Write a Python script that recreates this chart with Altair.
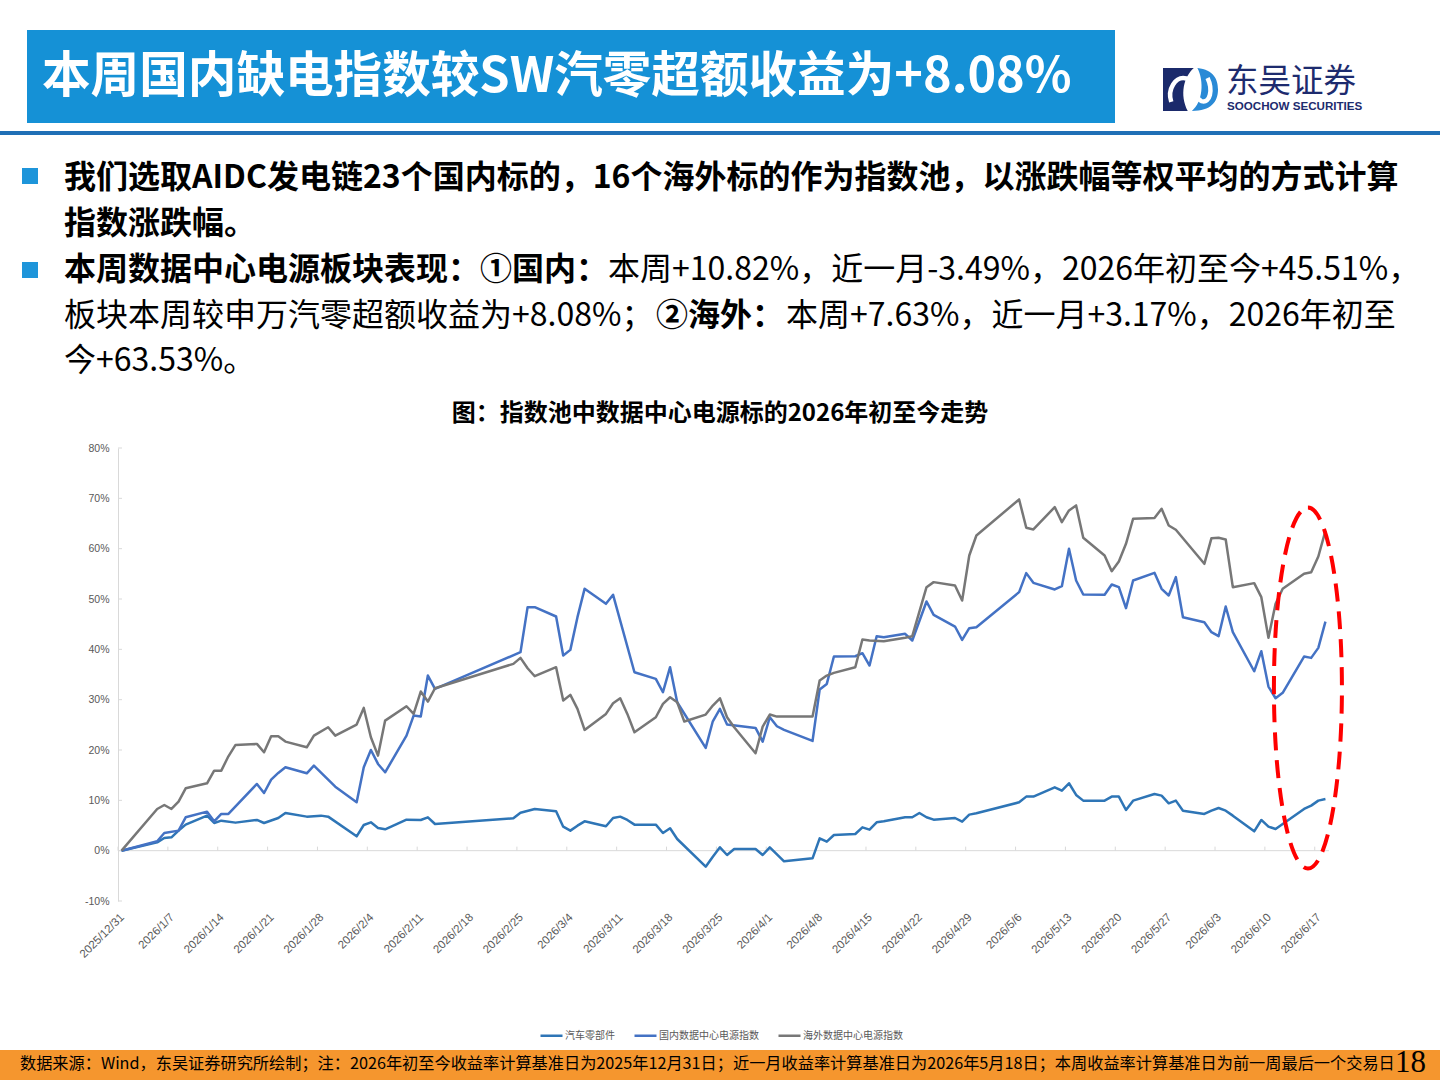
import altair as alt
import pandas as pd

CJK = "Noto Sans CJK SC"
LATIN = "Liberation Sans"

# ---------------- series: cumulative return since 2025-12-31 (%) ----------------
SERIES = ["汽车零部件", "国内数据中心电源指数", "海外数据中心电源指数"]
COLORS = ["#2E75B6", "#4472C4", "#777777"]

AUTO_PARTS = [
    ("2025-12-31", 0.00), ("2026-01-05", 1.66), ("2026-01-06", 2.52), ("2026-01-07", 2.65),
    ("2026-01-08", 3.98), ("2026-01-09", 5.17), ("2026-01-12", 6.96), ("2026-01-13", 5.50),
    ("2026-01-14", 5.96), ("2026-01-16", 5.57), ("2026-01-19", 6.10), ("2026-01-20", 5.50),
    ("2026-01-22", 6.49), ("2026-01-23", 7.49), ("2026-01-26", 6.76), ("2026-01-28", 6.96),
    ("2026-01-29", 6.76), ("2026-02-02", 2.85), ("2026-02-03", 5.10), ("2026-02-04", 5.63),
    ("2026-02-05", 4.51), ("2026-02-06", 4.24), ("2026-02-09", 6.16), ("2026-02-11", 6.10),
    ("2026-02-12", 6.63), ("2026-02-13", 5.30), ("2026-02-24", 6.43), ("2026-02-25", 7.55),
    ("2026-02-27", 8.28), ("2026-03-02", 7.82), ("2026-03-03", 4.77), ("2026-03-04", 3.98),
    ("2026-03-05", 4.97), ("2026-03-06", 5.83), ("2026-03-09", 4.84), ("2026-03-10", 6.49),
    ("2026-03-11", 6.76), ("2026-03-12", 6.10), ("2026-03-13", 5.17), ("2026-03-16", 5.17),
    ("2026-03-17", 3.51), ("2026-03-18", 4.44), ("2026-03-19", 2.32), ("2026-03-23", -3.18),
    ("2026-03-24", -1.19), ("2026-03-25", 0.66), ("2026-03-26", -0.86), ("2026-03-27", 0.33),
    ("2026-03-30", 0.33), ("2026-03-31", -0.86), ("2026-04-01", 0.66), ("2026-04-03", -2.12),
    ("2026-04-07", -1.52), ("2026-04-08", 2.45), ("2026-04-09", 1.79), ("2026-04-10", 3.11),
    ("2026-04-13", 3.31), ("2026-04-14", 4.64), ("2026-04-15", 4.17), ("2026-04-16", 5.63),
    ("2026-04-17", 5.83), ("2026-04-20", 6.63), ("2026-04-21", 6.63), ("2026-04-22", 7.49),
    ("2026-04-23", 6.63), ("2026-04-24", 6.16), ("2026-04-27", 6.49), ("2026-04-28", 5.77),
    ("2026-04-29", 7.16), ("2026-04-30", 7.42), ("2026-05-06", 9.61), ("2026-05-07", 10.74),
    ("2026-05-08", 10.74), ("2026-05-11", 12.59), ("2026-05-12", 11.93), ("2026-05-13", 13.39),
    ("2026-05-14", 11.07), ("2026-05-15", 9.94), ("2026-05-18", 9.94), ("2026-05-19", 10.74),
    ("2026-05-20", 10.74), ("2026-05-21", 8.08), ("2026-05-22", 9.94), ("2026-05-25", 11.27),
    ("2026-05-26", 10.93), ("2026-05-27", 9.41), ("2026-05-28", 9.94), ("2026-05-29", 7.95),
    ("2026-06-01", 7.29), ("2026-06-02", 7.95), ("2026-06-03", 8.48), ("2026-06-04", 7.95),
    ("2026-06-05", 6.96), ("2026-06-08", 3.84), ("2026-06-09", 6.10), ("2026-06-10", 4.77),
    ("2026-06-11", 4.31), ("2026-06-12", 5.30), ("2026-06-15", 8.28), ("2026-06-16", 8.95),
    ("2026-06-17", 9.94), ("2026-06-18", 10.27),
]

DOMESTIC = [
    ("2025-12-31", 0.00), ("2026-01-05", 1.86), ("2026-01-06", 3.51), ("2026-01-08", 3.98),
    ("2026-01-09", 6.63), ("2026-01-12", 7.75), ("2026-01-13", 5.83), ("2026-01-14", 7.29),
    ("2026-01-15", 7.29), ("2026-01-19", 13.25), ("2026-01-20", 11.46), ("2026-01-21", 14.12),
    ("2026-01-22", 15.44), ("2026-01-23", 16.57), ("2026-01-26", 15.37), ("2026-01-27", 16.90),
    ("2026-01-30", 12.72), ("2026-02-02", 9.61), ("2026-02-03", 16.57), ("2026-02-04", 20.01),
    ("2026-02-05", 17.23), ("2026-02-06", 15.57), ("2026-02-09", 22.86), ("2026-02-10", 26.84),
    ("2026-02-11", 26.64), ("2026-02-12", 34.79), ("2026-02-13", 32.14), ("2026-02-25", 39.43),
    ("2026-02-26", 48.38), ("2026-02-27", 48.38), ("2026-03-02", 46.52), ("2026-03-03", 38.77),
    ("2026-03-04", 39.89), ("2026-03-05", 46.39), ("2026-03-06", 52.02), ("2026-03-09", 49.04),
    ("2026-03-10", 50.83), ("2026-03-13", 35.45), ("2026-03-16", 34.13), ("2026-03-17", 31.48),
    ("2026-03-18", 36.45), ("2026-03-19", 29.49), ("2026-03-23", 20.41), ("2026-03-24", 25.71),
    ("2026-03-25", 28.16), ("2026-03-26", 25.05), ("2026-03-30", 24.39), ("2026-03-31", 21.67),
    ("2026-04-01", 26.51), ("2026-04-02", 24.72), ("2026-04-03", 24.00), ("2026-04-07", 21.80),
    ("2026-04-08", 32.00), ("2026-04-09", 33.13), ("2026-04-10", 38.57), ("2026-04-13", 38.63),
    ("2026-04-14", 39.23), ("2026-04-15", 36.78), ("2026-04-16", 42.61), ("2026-04-17", 42.41),
    ("2026-04-20", 43.08), ("2026-04-21", 41.75), ("2026-04-23", 49.50), ("2026-04-24", 46.85),
    ("2026-04-27", 44.53), ("2026-04-28", 41.88), ("2026-04-29", 44.20), ("2026-04-30", 44.40),
    ("2026-05-06", 51.36), ("2026-05-07", 55.14), ("2026-05-08", 53.21), ("2026-05-11", 51.89),
    ("2026-05-12", 52.55), ("2026-05-13", 59.97), ("2026-05-14", 53.68), ("2026-05-15", 50.89),
    ("2026-05-18", 50.83), ("2026-05-19", 52.88), ("2026-05-20", 52.35), ("2026-05-21", 48.18),
    ("2026-05-22", 53.68), ("2026-05-25", 55.20), ("2026-05-26", 52.02), ("2026-05-27", 50.70),
    ("2026-05-28", 54.34), ("2026-05-29", 46.39), ("2026-06-01", 45.39), ("2026-06-02", 43.41),
    ("2026-06-03", 42.61), ("2026-06-04", 48.51), ("2026-06-05", 43.41), ("2026-06-08", 35.65),
    ("2026-06-09", 39.63), ("2026-06-10", 32.60), ("2026-06-11", 30.28), ("2026-06-12", 31.35),
    ("2026-06-15", 38.57), ("2026-06-16", 38.30), ("2026-06-17", 40.29), ("2026-06-18", 45.51),
]

OVERSEAS = [
    ("2025-12-31", 0.00), ("2026-01-05", 8.28), ("2026-01-06", 9.08), ("2026-01-07", 8.28),
    ("2026-01-08", 9.74), ("2026-01-09", 12.39), ("2026-01-12", 13.39), ("2026-01-13", 15.90),
    ("2026-01-14", 15.90), ("2026-01-15", 18.75), ("2026-01-16", 21.01), ("2026-01-19", 21.21),
    ("2026-01-20", 19.55), ("2026-01-21", 22.73), ("2026-01-22", 22.73), ("2026-01-23", 21.67),
    ("2026-01-26", 20.54), ("2026-01-27", 22.86), ("2026-01-29", 24.52), ("2026-01-30", 22.86),
    ("2026-02-02", 25.05), ("2026-02-03", 28.36), ("2026-02-04", 22.53), ("2026-02-05", 18.89),
    ("2026-02-06", 25.84), ("2026-02-09", 28.69), ("2026-02-10", 27.17), ("2026-02-11", 31.61),
    ("2026-02-12", 29.62), ("2026-02-13", 32.27), ("2026-02-24", 37.11), ("2026-02-25", 38.30),
    ("2026-02-26", 36.25), ("2026-02-27", 34.66), ("2026-03-02", 36.45), ("2026-03-03", 29.82),
    ("2026-03-04", 30.95), ("2026-03-05", 28.16), ("2026-03-06", 23.99), ("2026-03-09", 27.17),
    ("2026-03-10", 29.29), ("2026-03-11", 30.28), ("2026-03-12", 27.17), ("2026-03-13", 23.53),
    ("2026-03-16", 26.51), ("2026-03-17", 29.16), ("2026-03-18", 30.48), ("2026-03-19", 29.49),
    ("2026-03-20", 25.65), ("2026-03-23", 27.04), ("2026-03-24", 28.83), ("2026-03-25", 30.28),
    ("2026-03-26", 26.51), ("2026-03-27", 24.52), ("2026-03-30", 19.35), ("2026-03-31", 24.65),
    ("2026-04-01", 27.04), ("2026-04-02", 26.64), ("2026-04-07", 26.64), ("2026-04-08", 33.80),
    ("2026-04-09", 34.79), ("2026-04-10", 35.32), ("2026-04-13", 36.45), ("2026-04-14", 41.95),
    ("2026-04-15", 41.75), ("2026-04-17", 41.62), ("2026-04-20", 42.30), ("2026-04-21", 42.61),
    ("2026-04-23", 52.35), ("2026-04-24", 53.35), ("2026-04-27", 52.68), ("2026-04-28", 49.70),
    ("2026-04-29", 58.65), ("2026-04-30", 62.62), ("2026-05-06", 69.78), ("2026-05-07", 64.15),
    ("2026-05-08", 63.82), ("2026-05-11", 68.26), ("2026-05-12", 65.27), ("2026-05-13", 67.59),
    ("2026-05-14", 68.59), ("2026-05-15", 62.16), ("2026-05-18", 58.65), ("2026-05-19", 55.53),
    ("2026-05-20", 57.46), ("2026-05-21", 60.97), ("2026-05-22", 65.94), ("2026-05-25", 66.07),
    ("2026-05-26", 67.93), ("2026-05-27", 64.61), ("2026-05-28", 63.75), ("2026-06-01", 56.99),
    ("2026-06-02", 62.09), ("2026-06-03", 62.16), ("2026-06-04", 61.83), ("2026-06-05", 52.35),
    ("2026-06-08", 53.15), ("2026-06-09", 50.36), ("2026-06-10", 42.28), ("2026-06-11", 49.04),
    ("2026-06-12", 52.02), ("2026-06-15", 55.00), ("2026-06-16", 55.33), ("2026-06-17", 58.45),
    ("2026-06-18", 63.53),
]

# weekly axis labels and y ticks
TICK_DATES = [
    "2025-12-31", "2026-01-07", "2026-01-14", "2026-01-21", "2026-01-28", "2026-02-04",
    "2026-02-11", "2026-02-18", "2026-02-25", "2026-03-04", "2026-03-11", "2026-03-18",
    "2026-03-25", "2026-04-01", "2026-04-08", "2026-04-15", "2026-04-22", "2026-04-29",
    "2026-05-06", "2026-05-13", "2026-05-20", "2026-05-27", "2026-06-03", "2026-06-10",
    "2026-06-17",
]
Y_TICKS = [-10, 0, 10, 20, 30, 40, 50, 60, 70, 80]

# ---------------- page geometry (plot area inside a 1440x1080 slide) ----------------
LEFT, TOP = 118, 448
W, H = 1211, 453
ONE = alt.Data(values=[{"k": 0}])


def ms(day):
    return int(pd.Timestamp(day, tz="UTC").value // 10**6)


X0, X1 = ms("2025-12-31"), ms("2026-06-19")
TICK_MS = [ms(d) for d in TICK_DATES]

rows = []
for name, pairs in zip(SERIES, [AUTO_PARTS, DOMESTIC, OVERSEAS]):
    for day, pct in pairs:
        rows.append({"series": name, "date": day + "T12:00:00Z", "pct": pct})
df = pd.DataFrame(rows)


def text_at(s, px, py, size, color="#000000", weight="normal", font=CJK, align="left"):
    return alt.Chart(ONE).mark_text(
        text=s, fontSize=size, fontWeight=weight, font=font, color=color,
        align=align, baseline="middle",
    ).encode(x=alt.value(px - LEFT), y=alt.value(py - TOP))


def box_at(x0, y0, x1, y1, color):
    return alt.Chart(ONE).mark_rect(color=color).encode(
        x=alt.value(x0 - LEFT), x2=alt.value(x1 - LEFT),
        y=alt.value(y0 - TOP), y2=alt.value(y1 - TOP),
    )


def glyph_at(path, cx, cy, side, color, filled=True, width=0):
    kw = dict(shape=path, size=side * side, opacity=1, filled=filled)
    if filled:
        kw.update(fill=color, strokeWidth=0)
    else:
        kw.update(stroke=color, strokeWidth=width)
    return alt.Chart(ONE).mark_point(**kw).encode(x=alt.value(cx - LEFT), y=alt.value(cy - TOP))


# ---------------- slide header ----------------
header = [
    box_at(27, 30, 1115, 123, "#1591D6"),
    text_at("本周国内缺电指数较SW汽零超额收益为+8.08%", 42, 77, 48.6, "#FFFFFF", "bold"),
    box_at(0, 131, 1440, 135, "#1F6FB6"),
    # company mark: navy block, blue link and a white channel between them
    glyph_at("M-1,-0.78 L0.12,-0.78 C-0.25,-0.45 -0.4,0.2 -0.1,0.78 L-1,0.78 Z",
             1190.5, 89.5, 55, "#1B2A6B"),
    glyph_at("M0.25,-0.78 C0.85,-0.72 1,-0.35 1,0 C1,0.45 0.75,0.78 0.05,0.78 "
             "C0.45,0.45 0.5,-0.3 0.25,-0.78 Z", 1190.5, 89.5, 55, "#2A8AD6"),
    glyph_at("M-0.7,0.45 C-0.85,0.0 -0.55,-0.5 -0.15,-0.4 C0.25,-0.3 0.05,0.3 0.4,0.42 "
             "C0.72,0.52 0.82,0.0 0.62,-0.42", 1190.5, 89.5, 55, "#FFFFFF", False, 4.5),
    text_at("东吴证券", 1226, 82, 32.5, "#1D2B6E"),
    text_at("SOOCHOW SECURITIES", 1227, 107, 11.6, "#1D2B6E", "bold", LATIN),
]

# ---------------- bullet text ----------------
body = [
    box_at(22, 168, 38, 184, "#1E95DA"),
    box_at(22, 262, 38, 278, "#1E95DA"),
    text_at("我们选取AIDC发电链23个国内标的，16个海外标的作为指数池，以涨跌幅等权平均的方式计算",
            64, 178, 32, weight="bold"),
    text_at("指数涨跌幅。", 64, 224, 32, weight="bold"),
    text_at("本周数据中心电源板块表现：①国内：", 64, 270, 32, weight="bold"),
    text_at("本周+10.82%，近一月-3.49%，2026年初至今+45.51%，", 608, 270, 32),
    text_at("板块本周较申万汽零超额收益为+8.08%；", 64, 316, 32),
    text_at("②海外：", 656, 316, 32, weight="bold"),
    text_at("本周+7.63%，近一月+3.17%，2026年初至", 786, 316, 32),
    text_at("今+63.53%。", 64, 361, 32),
    text_at("图：指数池中数据中心电源标的2026年初至今走势", 720, 414, 24, weight="bold", align="center"),
]

# ---------------- footer ----------------
footer = [
    box_at(0, 1050, 1440, 1080, "#F5962E"),
    text_at("数据来源：Wind，东吴证券研究所绘制；注：2026年初至今收益率计算基准日为2025年12月31日；"
            "近一月收益率计算基准日为2026年5月18日；本周收益率计算基准日为前一周最后一个交易日",
            20, 1064, 16.2),
    text_at("18", 1395, 1063, 31, font="Liberation Serif"),
]

# ---------------- chart ----------------
X_AXIS = alt.Axis(
    values=TICK_MS, labelExpr="utcFormat(datum.value, '%Y/%-m/%-d')",
    labelAngle=-45, labelAlign="right", labelBaseline="top",
    labelFontSize=11.5, labelColor="#595959", labelFont=LATIN,
    domain=False, ticks=False, grid=False, labelPadding=10,
    labelOverlap=False, labelFlush=False,
)
X_SCALE = alt.Scale(type="utc", domain=[X0, X1])

y_enc = alt.Y(
    "pct:Q", title=None,
    scale=alt.Scale(domain=[-10, 80], nice=False, zero=False),
    axis=alt.Axis(
        values=Y_TICKS, labelExpr="datum.value + '%'",
        labelFontSize=10.5, labelColor="#595959", labelFont=LATIN,
        domainColor="#D9D9D9", domainWidth=1, ticks=False, grid=False, labelPadding=9,
    ),
)

lines = alt.Chart(df).mark_line(strokeWidth=2.5, strokeJoin="round").encode(
    x=alt.X("date:T", title=None, scale=X_SCALE, axis=X_AXIS),
    y=y_enc,
    color=alt.Color(
        "series:N",
        scale=alt.Scale(domain=SERIES, range=COLORS),
        sort=SERIES,
        legend=alt.Legend(
            title=None, orient="none", legendX=539 - LEFT, legendY=1023 - TOP,
            direction="horizontal", symbolType="stroke", symbolSize=484,
            symbolStrokeWidth=2.5, labelFontSize=10, labelFont=CJK, labelColor="#595959",
            labelOffset=1, columnPadding=14, padding=0,
        ),
    ),
)

zero_line = alt.Chart(ONE).mark_rule(color="#D9D9D9", strokeWidth=1).encode(
    y=alt.Y(datum=0, title=None), x=alt.value(0), x2=alt.value(W),
)

tick_df = pd.DataFrame({"date": [d + "T00:00:00Z" for d in TICK_DATES]})
zero_ticks = alt.Chart(tick_df).mark_rule(color="#D9D9D9", strokeWidth=1).encode(
    x=alt.X("date:T", title=None, scale=X_SCALE, axis=X_AXIS),
    y=alt.Y(datum=0, title=None),
    y2=alt.Y2(datum=0.8),
)

ytick_df = pd.DataFrame({"pct": Y_TICKS})
y_ticks = alt.Chart(ytick_df).mark_rule(color="#D9D9D9", strokeWidth=1).encode(
    y=alt.Y("pct:Q", title=None), x=alt.value(0), x2=alt.value(4),
)

# dashed oval highlighting the latest week
A = 34 / 180.5
K = 0.5523
OVAL = (
    f"M0,-1 C{A*K:.4f},-1 {A:.4f},{-K} {A:.4f},0 "
    f"C{A:.4f},{K} {A*K:.4f},1 0,1 "
    f"C{-A*K:.4f},1 {-A:.4f},{K} {-A:.4f},0 "
    f"C{-A:.4f},{-K} {-A*K:.4f},-1 0,-1 Z"
)
oval = alt.Chart(ONE).mark_point(
    shape=OVAL, size=361 * 361, filled=False, stroke="#FF0000", strokeWidth=4,
    strokeDash=[18, 10], opacity=1,
).encode(
    x=alt.X(datum=alt.DateTime(year=2026, month=6, date=16, hours=1, utc=True),
            type="temporal", title=None, scale=X_SCALE, axis=X_AXIS),
    y=alt.Y(datum=32.3, title=None),
)

chart = alt.layer(
    *header, *body, *footer, zero_line, zero_ticks, y_ticks, lines, oval,
).properties(
    width=W, height=H,
    autosize=alt.AutoSizeParams(type="none"),
    padding={"left": LEFT, "top": TOP, "right": 1440 - LEFT - W, "bottom": 1080 - TOP - H},
    background="#FFFFFF",
).configure_view(stroke=None)

chart.save("out.html", embed_options={"renderer": "svg", "actions": False})
